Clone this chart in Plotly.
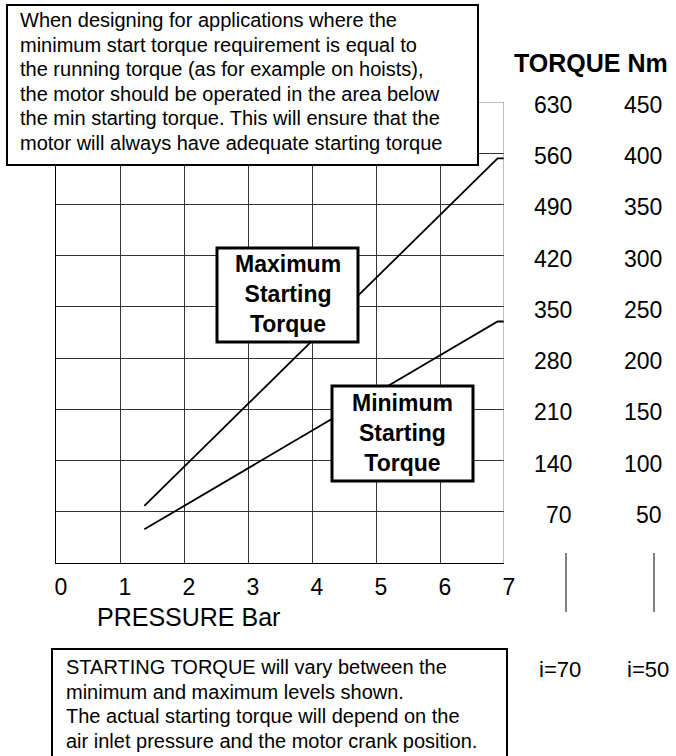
import plotly.graph_objects as go

# Starting torque curves (pressure in bar, torque in Nm on the i=70 scale)
pressure = [1.38, 6.9, 7.03]
max_torque = [78, 553, 553]
min_torque = [46, 330, 330]

pressure_ticks = [0, 1, 2, 3, 4, 5, 6, 7]
torque_i70 = [70, 140, 210, 280, 350, 420, 490, 560, 630]
torque_i50 = [50, 100, 150, 200, 250, 300, 350, 400, 450]

top_note = [
    "When designing for applications where the",
    "minimum start torque requirement is equal to",
    "the running torque (as for example on hoists),",
    "the motor should be operated in the area below",
    "the min starting torque. This will ensure that the",
    "motor will always have adequate starting torque",
]
bottom_note = [
    "STARTING TORQUE will vary between the",
    "minimum and maximum levels shown.",
    "The actual starting torque will depend on the",
    "air inlet pressure and the motor crank position.",
]

FONT = "Liberation Sans, Arial, sans-serif"
W_FIG, H_FIG = 676, 756
L, T, PW, PH = 56, 102, 448, 461  # plot area in pixels


def px(xp):
    return (xp - L) / PW


def py(yp):
    return (T + PH - yp) / PH


fig = go.Figure()
fig.add_trace(go.Scatter(x=pressure, y=max_torque, mode="lines",
                         line=dict(color="black", width=1.8), hoverinfo="skip"))
fig.add_trace(go.Scatter(x=pressure, y=min_torque, mode="lines",
                         line=dict(color="black", width=1.8), hoverinfo="skip"))

shapes = []
annotations = []

# right and top frame edges
shapes.append(dict(type="line", xref="x", yref="y", x0=7, x1=7, y0=0, y1=630,
                   line=dict(color="#808080", width=1), layer="above"))
shapes.append(dict(type="line", xref="x", yref="y", x0=0, x1=7, y0=630, y1=630,
                   line=dict(color="#808080", width=1), layer="above"))


# note boxes
def box(x0, y0, x1, y1, w):
    shapes.append(dict(type="rect", xref="paper", yref="paper",
                       x0=px(x0), x1=px(x1), y0=py(y0), y1=py(y1),
                       line=dict(color="black", width=w), fillcolor="white",
                       layer="above"))


box(7, 5, 478, 165, 2)
box(217, 248, 358, 342, 3)
box(332, 386, 473, 481, 3)
box(52, 649, 507, 770, 2)

for i, line in enumerate(top_note):
    annotations.append(dict(xref="paper", yref="paper", x=px(18), y=py(20 + 24.6 * i),
                            text=line, showarrow=False, xanchor="left", yanchor="middle",
                            font=dict(family=FONT, size=20, color="black")))
for i, line in enumerate(bottom_note):
    annotations.append(dict(xref="paper", yref="paper", x=px(64), y=py(667 + 24.5 * i),
                            text=line, showarrow=False, xanchor="left", yanchor="middle",
                            font=dict(family=FONT, size=20, color="black")))

annotations.append(dict(xref="paper", yref="paper", x=px(287.5), y=py(294),
                        text="<b>Maximum<br>Starting<br>Torque</b>", showarrow=False,
                        xanchor="center", yanchor="middle", align="center",
                        font=dict(family=FONT, size=23, color="black")))
annotations.append(dict(xref="paper", yref="paper", x=px(402.5), y=py(433),
                        text="<b>Minimum<br>Starting<br>Torque</b>", showarrow=False,
                        xanchor="center", yanchor="middle", align="center",
                        font=dict(family=FONT, size=23, color="black")))

# secondary torque scales
annotations.append(dict(xref="paper", yref="paper", x=px(591), y=py(63),
                        text="<b>TORQUE Nm</b>", showarrow=False,
                        xanchor="center", yanchor="middle",
                        font=dict(family=FONT, size=25, color="black")))
for a, b in zip(torque_i70, torque_i50):
    annotations.append(dict(xref="paper", yref="y", x=px(574), y=a, yshift=-3,
                            text=str(a), showarrow=False, xanchor="right", yanchor="middle",
                            font=dict(family=FONT, size=23, color="black")))
    annotations.append(dict(xref="paper", yref="y", x=px(664), y=a, yshift=-3,
                            text=str(b), showarrow=False, xanchor="right", yanchor="middle",
                            font=dict(family=FONT, size=23, color="black")))

for xc, label in [(566, "i=70"), (654, "i=50")]:
    shapes.append(dict(type="line", xref="paper", yref="paper", x0=px(xc), x1=px(xc),
                       y0=py(553), y1=py(612), line=dict(color="black", width=1)))
    annotations.append(dict(xref="paper", yref="paper", x=px(xc - 6), y=py(669),
                            text=label, showarrow=False, xanchor="center", yanchor="middle",
                            font=dict(family=FONT, size=22, color="black")))

annotations.append(dict(xref="paper", yref="paper", x=px(95), y=py(617),
                        text="PRESSURE Bar", showarrow=False, xanchor="left", yanchor="middle",
                        font=dict(family=FONT, size=25, color="black")))

fig.update_layout(
    width=W_FIG, height=H_FIG,
    margin=dict(l=L, r=W_FIG - L - PW, t=T, b=H_FIG - T - PH, pad=0),
    paper_bgcolor="white", plot_bgcolor="white",
    showlegend=False,
    shapes=shapes, annotations=annotations,
    xaxis=dict(range=[0, 7], tickvals=pressure_ticks, ticktext=[str(v) for v in pressure_ticks],
               showgrid=True, gridcolor="#333333", gridwidth=1, zeroline=False,
               showline=True, linecolor="black", linewidth=1, ticks="",
               ticklabelshift=5, ticklabelstandoff=3,
               tickfont=dict(family=FONT, size=23, color="black"), fixedrange=True),
    yaxis=dict(range=[0, 630], tickvals=torque_i70, showticklabels=False,
               showgrid=True, gridcolor="#333333", gridwidth=1, zeroline=False,
               showline=True, linecolor="black", linewidth=1, ticks="", fixedrange=True),
)

fig.write_html("out.html")
